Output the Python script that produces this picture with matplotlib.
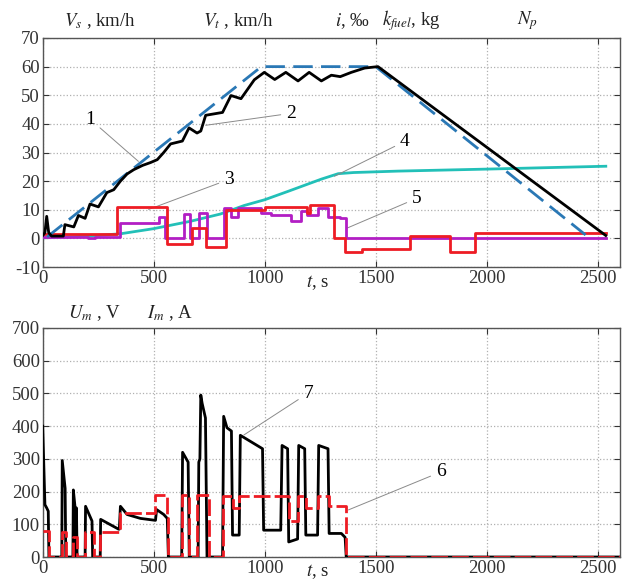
import matplotlib
matplotlib.use("Agg")
import matplotlib.pyplot as plt

plt.rcParams['font.family'] = ['Liberation Serif', 'DejaVu Serif']
plt.rcParams['mathtext.fontset'] = 'stix'
plt.rcParams['axes.unicode_minus'] = False

# ---- top panel data ----
# 1: target speed V_t (blue dashed)
vt_t = [20, 985, 1500, 2445]
vt_v = [0.5, 60, 60, 1.2]

# 2: actual speed V_s (black)
vs_t = [0, 10, 18, 27, 40, 93, 100, 140, 161, 191, 213, 251, 289, 320, 350, 380, 410, 450,
        486, 516, 545, 576, 629, 659, 695, 712, 734, 772, 810, 848, 893, 953, 998, 1045,
        1095, 1150, 1200, 1255, 1300, 1340, 1390, 1450, 1510, 2536]
vs_v = [1, 2, 7.7, 2, 0.8, 0.8, 4.8, 4, 8, 7, 12, 11, 16, 17, 20, 22.5, 24, 25.5,
        26.5, 27.5, 30, 33, 34, 38.6, 36.8, 37.5, 43, 43.5, 44, 49.9, 48.8, 55.4, 58, 55.5,
        58, 55, 58, 55, 57, 56.5, 58, 59.5, 60, 1]

# 3: slope i (red steps)
i_t = [0, 334, 561, 674, 734, 825, 1000, 1190, 1205, 1314, 1360, 1436, 1654, 1835, 1948, 2536]
i_v = [1.5, 11, -2, 3.7, -3, 10, 11, 9, 11.5, 0, -4.8, -3.6, 0.9, -4.8, 1.9, 1.9]

# 4: fuel consumption k_fuel (cyan)
kf_t = [0, 200, 350, 500, 667, 800, 908, 1000, 1104, 1255, 1331, 1400, 1600, 2000, 2536]
kf_v = [0.2, 0.8, 1.6, 3.4, 6.0, 8.5, 11.5, 13.5, 16.4, 20.7, 22.6, 23.0, 23.5, 24.2, 25.2]

# 5: controller position N_p (magenta steps)
np_t = [0, 206, 236, 350, 523, 553, 636, 662, 705, 740, 815, 850, 880, 985, 1030, 1120,
        1165, 1190, 1240, 1285, 1340, 1368, 2536]
np_v = [0.6, 0, 0.6, 5.5, 7.5, 0, 8.5, 0, 9, 0, 10.5, 7.5, 10.5, 9, 8, 6,
        9.5, 8, 10.5, 7.5, 7, 0, 0]

# ---- bottom panel data ----
# 7: motor voltage U_m (black)
um_t = [0, 5, 10, 18, 25, 28, 86, 88, 101, 104, 136, 138, 146, 148, 152, 155, 191, 193, 222,
        225, 259, 261, 342, 345, 350, 380, 440, 508, 513, 545, 561, 566, 626, 630, 655, 660,
        700, 703, 708, 712, 718, 733, 740, 810, 815, 830, 850, 855, 885, 890, 990, 995,
        1072, 1078, 1103, 1108, 1148, 1153, 1180, 1185, 1238, 1243, 1285, 1290, 1345,
        1362, 1367, 2600]
um_v = [400, 280, 160, 150, 140, 0, 0, 295, 210, 0, 0, 205, 150, 0, 150, 0, 0, 155, 110,
        0, 0, 115, 85, 85, 155, 130, 118, 112, 145, 130, 118, 0, 0, 320, 290, 0,
        0, 290, 300, 495, 470, 425, 0, 0, 430, 395, 385, 67, 67, 372, 331, 82,
        82, 341, 331, 46, 55, 341, 331, 67, 67, 341, 331, 72, 72,
        60, 0, 0]

# 6: motor current I_m (red dashed steps)
im_t = [0, 28, 86, 104, 136, 155, 191, 229, 259, 350, 508, 560, 566, 626, 660, 697, 749,
        810, 855, 885, 1108, 1148, 1185, 1240, 1290, 1367, 2600]
im_v = [80, 0, 75, 0, 60, 0, 75, 0, 75, 133, 188, 120, 0, 190, 0, 190, 0,
        185, 150, 185, 110, 185, 150, 185, 155, 0, 0]

W, H = 624, 581
fig = plt.figure(figsize=(W / 100, H / 100), dpi=100)


def px_axes(x0, y0, x1, y1):
    return fig.add_axes([x0 / W, 1 - y1 / H, (x1 - x0) / W, (y1 - y0) / H])


def style(ax):
    ax.grid(True, linestyle=':', color='#b0b0b0', linewidth=0.9)
    ax.tick_params(direction='in', top=True, right=True, length=4,
                   labelsize=13.5, colors='#333333', pad=2)
    for s in ax.spines.values():
        s.set_color('#555555')
        s.set_linewidth(1.0)


lead = dict(arrowstyle='-', color='#8a8a8a', lw=0.7, shrinkA=2, shrinkB=0)

# top panel
ax1 = px_axes(42.7, 38, 620, 267)
ax1.plot(kf_t, kf_v, color='#22c0b8', lw=2, zorder=3)
ax1.step(np_t, np_v, where='post', color='#b21ec4', lw=2, zorder=4)
ax1.step(i_t, i_v, where='post', color='#ee1c24', lw=2, zorder=5)
ax1.plot(vt_t, vt_v, color='#2a78b5', lw=2, dashes=(7, 3), zorder=6)
ax1.plot(vs_t, vs_v, color='black', lw=2, zorder=7)
ax1.set_xlim(0, 2600)
ax1.set_ylim(-10, 70)
ax1.set_xticks([0, 500, 1000, 1500, 2000, 2500])
ax1.set_yticks(range(-10, 71, 10))
style(ax1)

ax1.annotate('1', xy=(431, 26.9), xytext=(214, 41.6), fontsize=14, ha='center', va='center',
             arrowprops=lead)
ax1.annotate('2', xy=(734, 39.5), xytext=(1119, 43.7), fontsize=14, ha='center', va='center',
             arrowprops=lead)
ax1.annotate('3', xy=(477, 10.1), xytext=(839, 20.6), fontsize=14, ha='center', va='center',
             arrowprops=lead)
ax1.annotate('4', xy=(1314, 21.7), xytext=(1631, 33.9), fontsize=14, ha='center', va='center',
             arrowprops=lead)
ax1.annotate('5', xy=(1368, 3.5), xytext=(1685, 14), fontsize=14, ha='center', va='center',
             arrowprops=lead)

# bottom panel
ax2 = px_axes(42.7, 328, 620, 557)
ax2.plot(um_t, um_v, color='black', lw=2, zorder=3)
ax2.step(im_t, im_v, where='post', color='#ee1c24', lw=2, dashes=(6, 1.5), zorder=4)
ax2.set_xlim(0, 2600)
ax2.set_ylim(0, 700)
ax2.set_xticks([0, 500, 1000, 1500, 2000, 2500])
ax2.set_yticks(range(0, 701, 100))
style(ax2)

ax2.annotate('7', xy=(906, 373), xytext=(1196, 501), fontsize=14, ha='center', va='center',
             arrowprops=lead)
ax2.annotate('6', xy=(1377, 144), xytext=(1793, 260), fontsize=14, ha='center', va='center',
             arrowprops=lead)


def ftext(x, y, s, ha='left'):
    fig.text(x / W, 1 - y / H, s, fontsize=13.5, ha=ha, va='center', color='#222222')


# axis headers
ftext(64, 21, r'$V_s$ , km/h')
ftext(203, 21, r'$V_t$ , km/h')
ftext(335, 21, r'$i$, ‰')
ftext(382, 21, r'$k_{fuel}$, kg')
ftext(517, 21, r'$N_p$')
ftext(68, 313, r'$U_m$ , V')
ftext(147, 313, r'$I_m$ , A')
ftext(306, 283, r'$t$, s')
ftext(306, 572, r'$t$, s')

fig.savefig('out.png', dpi=100)
